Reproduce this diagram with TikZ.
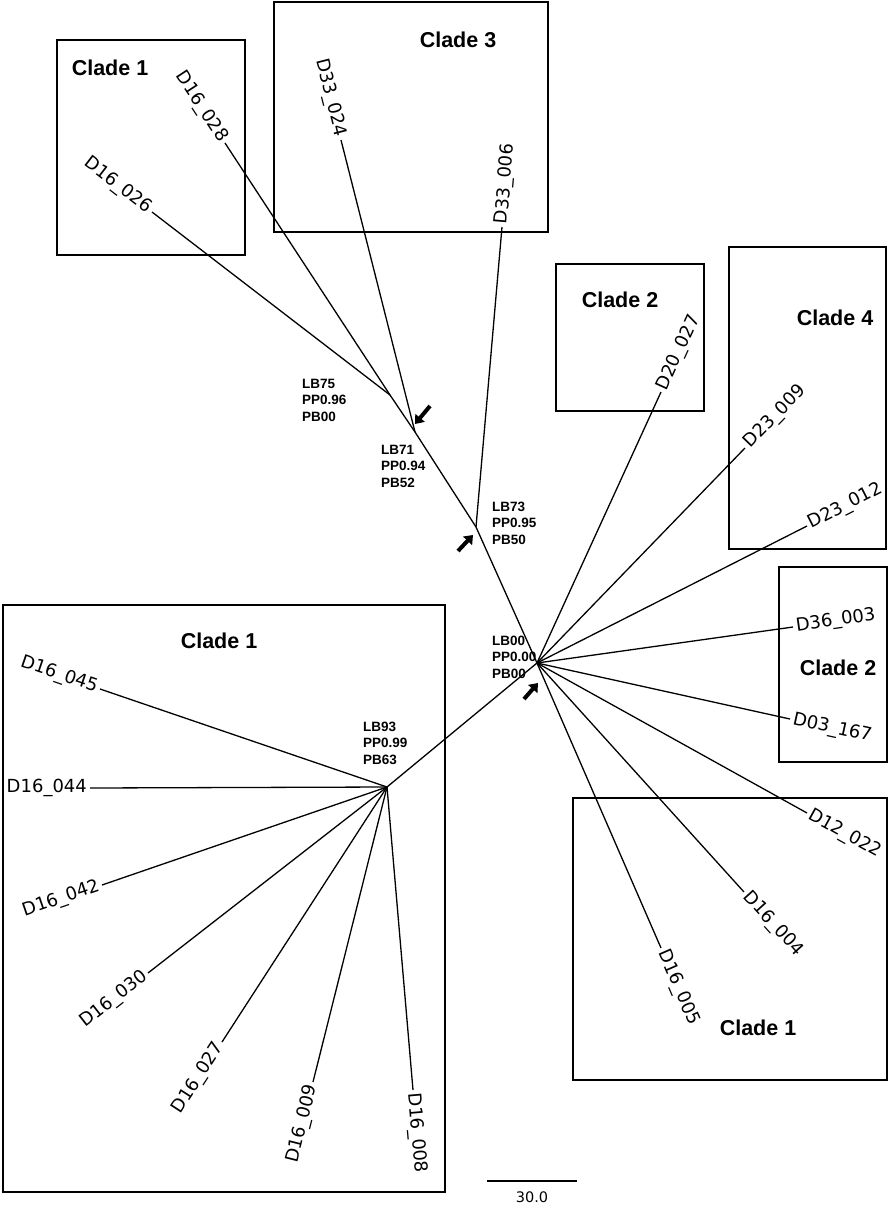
\documentclass[tikz,border=0pt]{standalone}
\usepackage{fontspec}
\setmainfont{DejaVu Sans}
\newfontfamily\cladefont{Liberation Sans}
\usetikzlibrary{arrows.meta}

\begin{document}
\begin{tikzpicture}[x=1pt,y=-1pt,
    branch/.style={line width=1.3pt},
    cladebox/.style={draw,line width=1.3pt},
    cladename/.style={font=\cladefont\bfseries\fontsize{21.5}{24}\selectfont},
    leaf/.style={font=\fontsize{18}{20}\selectfont,inner sep=2.5pt,sloped,pos=1},
    support/.style={font=\cladefont\bfseries\fontsize{13.5}{16.5}\selectfont,align=left,anchor=west,inner sep=0pt},
    marker/.style={line width=4pt,-{Triangle[length=8pt,width=12pt]}}]
    \useasboundingbox (0,0) rectangle (888,1207);

    % clade boxes
    \draw[cladebox] (57,40) rectangle (245,255);
    \draw[cladebox] (274,2) rectangle (548,232);
    \draw[cladebox] (556,264) rectangle (704,411);
    \draw[cladebox] (729,247) rectangle (886,549);
    \draw[cladebox] (779,567) rectangle (887,762);
    \draw[cladebox] (573,798) rectangle (887,1080);
    \draw[cladebox] (3,605) rectangle (445,1192);

    \node[cladename] (cl1a) at (110,68) {Clade 1};
    \node[cladename] (cl3) at (458,40) {Clade 3};
    \node[cladename] (cl2a) at (620,300) {Clade 2};
    \node[cladename] (cl4) at (835,318) {Clade 4};
    \node[cladename] (cl2b) at (838,668) {Clade 2};
    \node[cladename] (cl1b) at (758,1028) {Clade 1};
    \node[cladename] (cl1c) at (219,641) {Clade 1};

    % internal nodes
    \coordinate (c) at (537,663);
    \coordinate (n73) at (476,527);
    \coordinate (n71) at (415,432);
    \coordinate (n75) at (390,395);
    \coordinate (n93) at (387,787);

    % leaf tips
    \coordinate (l16028) at (225,143);
    \coordinate (l16026) at (152,212);
    \coordinate (l33024) at (341,140);
    \coordinate (l33006) at (502,227);
    \coordinate (l20027) at (661,392);
    \coordinate (l23009) at (745,448);
    \coordinate (l23012) at (807,526);
    \coordinate (l36003) at (793,627);
    \coordinate (l03167) at (790,719);
    \coordinate (l12022) at (807,813);
    \coordinate (l16004) at (744,892);
    \coordinate (l16005) at (661,948);
    \coordinate (l16045) at (100,689);
    \coordinate (l16044) at (90,788);
    \coordinate (l16042) at (102,885);
    \coordinate (l16030) at (148,973);
    \coordinate (l16027) at (222,1042);
    \coordinate (l16009) at (313,1082);
    \coordinate (l16008) at (413,1090);

    % backbone
    \draw[branch] (n75) -- (n71) -- (n73) -- (c) -- (n93);

    % branches to the leaves
    \draw[branch] (n75) -- (l16028) node[leaf,anchor=east] (t16028) {D16\_028};
    \draw[branch] (n75) -- (l16026) node[leaf,anchor=east] (t16026) {D16\_026};
    \draw[branch] (n71) -- (l33024) node[leaf,anchor=east] (t33024) {D33\_024};
    \draw[branch] (n73) -- (l33006) node[leaf,anchor=west] (t33006) {D33\_006};

    \draw[branch] (c) -- (l20027) node[leaf,anchor=west] (t20027) {D20\_027};
    \draw[branch] (c) -- (l23009) node[leaf,anchor=west] (t23009) {D23\_009};
    \draw[branch] (c) -- (l23012) node[leaf,anchor=west] (t23012) {D23\_012};
    \draw[branch] (c) -- (l36003) node[leaf,anchor=west] (t36003) {D36\_003};
    \draw[branch] (c) -- (l03167) node[leaf,anchor=west] (t03167) {D03\_167};
    \draw[branch] (c) -- (l12022) node[leaf,anchor=west] (t12022) {D12\_022};
    \draw[branch] (c) -- (l16004) node[leaf,anchor=west] (t16004) {D16\_004};
    \draw[branch] (c) -- (l16005) node[leaf,anchor=west] (t16005) {D16\_005};

    \draw[branch] (n93) -- (l16045) node[leaf,anchor=east] (t16045) {D16\_045};
    \draw[branch] (n93) -- (l16044) node[leaf,anchor=east] (t16044) {D16\_044};
    \draw[branch] (n93) -- (l16042) node[leaf,anchor=east] (t16042) {D16\_042};
    \draw[branch] (n93) -- (l16030) node[leaf,anchor=east] (t16030) {D16\_030};
    \draw[branch] (n93) -- (l16027) node[leaf,anchor=east] (t16027) {D16\_027};
    \draw[branch] (n93) -- (l16009) node[leaf,anchor=east] (t16009) {D16\_009};
    \draw[branch] (n93) -- (l16008) node[leaf,anchor=west] (t16008) {D16\_008};

    % support values
    \node[support] (s75) at (302,400) {LB75\\PP0.96\\PB00};
    \node[support] (s71) at (381,466) {LB71\\PP0.94\\PB52};
    \node[support] (s73) at (492,523) {LB73\\PP0.95\\PB50};
    \node[support] (s00) at (492,657) {LB00\\PP0.00\\PB00};
    \node[support] (s93) at (363,743) {LB93\\PP0.99\\PB63};

    % arrows at the nodes
    \coordinate (m71a) at (430,406);
    \coordinate (m71b) at (415,424);
    \coordinate (m73a) at (458,551);
    \coordinate (m73b) at (473,535);
    \coordinate (m00a) at (524,699);
    \coordinate (m00b) at (538,683);
    \draw[marker] (m71a) -- (m71b);
    \draw[marker] (m73a) -- (m73b);
    \draw[marker] (m00a) -- (m00b);

    % scale bar
    \coordinate (sb1) at (487,1181);
    \coordinate (sb2) at (577,1181);
    \draw[branch] (sb1) -- (sb2);
    \node[font=\fontsize{14.5}{16}\selectfont] (sbl) at (532,1197) {30.0};
\end{tikzpicture}
\end{document}
